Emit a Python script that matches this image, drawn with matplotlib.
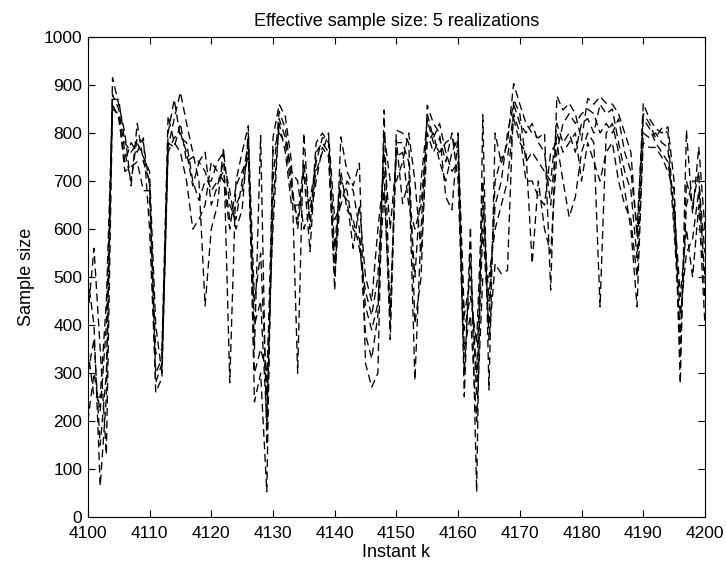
import numpy as np
import matplotlib
matplotlib.use("Agg")
import matplotlib.pyplot as plt

plt.rcParams['font.family'] = ['Liberation Sans', 'DejaVu Sans']

# instants k
instants = list(range(4100, 4201))

# effective sample size for each realization
real1 = [500, 400, 65, 250, 915, 860, 800, 690, 820, 740,
         700, 260, 290, 770, 830, 885, 820, 760, 700, 440,
         600, 650, 770, 280, 700, 760, 815, 240, 300, 53,
         790, 860, 834, 740, 300, 800, 600, 780, 800, 780,
         473, 792, 720, 690, 737, 320, 271, 300, 848, 400,
         806, 800, 780, 403, 500, 858, 820, 800, 667, 640,
         800, 251, 605, 53, 838, 265, 800, 737, 780, 903,
         860, 820, 800, 790, 800, 473, 877, 848, 862, 840,
         785, 872, 860, 876, 862, 860, 840, 800, 760, 584,
         862, 830, 810, 800, 813, 700, 278, 806, 632, 771,
         600]
real2 = [300, 370, 150, 300, 880, 850, 760, 700, 790, 780,
         690, 300, 330, 800, 870, 790, 780, 700, 660, 700,
         700, 740, 760, 650, 620, 700, 780, 350, 795, 150,
         700, 845, 810, 700, 600, 720, 553, 760, 780, 760,
         528, 700, 680, 600, 580, 438, 390, 445, 681, 425,
         785, 653, 700, 500, 700, 827, 780, 760, 780, 790,
         760, 390, 460, 362, 700, 369, 528, 507, 514, 870,
         840, 740, 760, 740, 720, 700, 820, 780, 800, 760,
         820, 830, 800, 860, 840, 850, 780, 720, 680, 540,
         830, 810, 780, 760, 740, 650, 460, 600, 500, 650,
         400]
real3 = [200, 300, 220, 400, 850, 840, 720, 730, 740, 680,
         680, 340, 350, 836, 780, 760, 700, 600, 620, 650,
         740, 720, 700, 600, 690, 720, 750, 400, 450, 200,
         650, 820, 760, 650, 650, 650, 660, 740, 790, 790,
         560, 720, 640, 620, 560, 470, 420, 500, 760, 600,
         750, 760, 650, 600, 650, 800, 760, 790, 740, 800,
         700, 300, 550, 250, 600, 400, 700, 750, 750, 840,
         800, 700, 700, 667, 650, 760, 780, 700, 625, 667,
         760, 800, 780, 438, 800, 820, 760, 680, 600, 438,
         800, 790, 800, 780, 770, 600, 380, 650, 700, 700,
         550]
real4 = [350, 250, 250, 450, 870, 870, 780, 760, 780, 750,
         720, 400, 300, 760, 790, 800, 760, 690, 740, 720,
         680, 700, 720, 620, 650, 680, 760, 300, 350, 300,
         600, 830, 790, 720, 700, 600, 640, 720, 760, 800,
         620, 650, 700, 680, 600, 380, 330, 420, 800, 700,
         700, 740, 800, 700, 550, 780, 800, 740, 700, 760,
         790, 420, 500, 300, 650, 450, 650, 700, 800, 860,
         820, 800, 820, 780, 760, 650, 800, 760, 780, 800,
         700, 780, 740, 700, 760, 780, 700, 650, 620, 500,
         780, 770, 770, 750, 720, 680, 330, 700, 650, 720,
         450]
real5 = [420, 560, 350, 130, 860, 830, 740, 780, 760, 790,
         600, 280, 320, 780, 770, 820, 740, 750, 740, 760,
         650, 690, 740, 680, 600, 640, 800, 450, 550, 250,
         760, 800, 780, 680, 620, 740, 620, 700, 770, 750,
         500, 680, 660, 560, 650, 500, 450, 600, 720, 370,
         780, 780, 740, 285, 600, 840, 790, 820, 760, 720,
         740, 350, 420, 200, 500, 500, 600, 650, 700, 830,
         780, 760, 528, 700, 600, 550, 760, 820, 840, 820,
         840, 850, 840, 800, 820, 800, 830, 760, 720, 600,
         840, 820, 790, 810, 800, 620, 420, 550, 580, 680,
         500]

x_ticks = list(range(4100, 4201, 10))
y_ticks = list(range(0, 1001, 100))

fig = plt.figure(figsize=(7.26, 5.69), dpi=100)
ax = fig.add_axes([0.121, 0.091, 0.850, 0.844])

for r in [real1, real2, real3, real4, real5]:
    ax.plot(instants, r, color='k', linestyle='--', dashes=(6, 3.5), linewidth=0.95)

ax.set_xlim(4100, 4200)
ax.set_ylim(0, 1000)
ax.set_xticks(x_ticks)
ax.set_yticks(y_ticks)
ax.tick_params(direction='in', top=True, right=True, length=5, labelsize=12.5)
ax.tick_params(axis='x', pad=6)
ax.tick_params(axis='y', pad=4)
for s in ax.spines.values():
    s.set_linewidth(0.8)

ax.set_title('Effective sample size: 5 realizations', fontsize=13, pad=8)
ax.set_xlabel('Instant k', fontsize=13, labelpad=2.5)
ax.set_ylabel('Sample size', fontsize=13, labelpad=6)

fig.savefig('out.png', dpi=100)
